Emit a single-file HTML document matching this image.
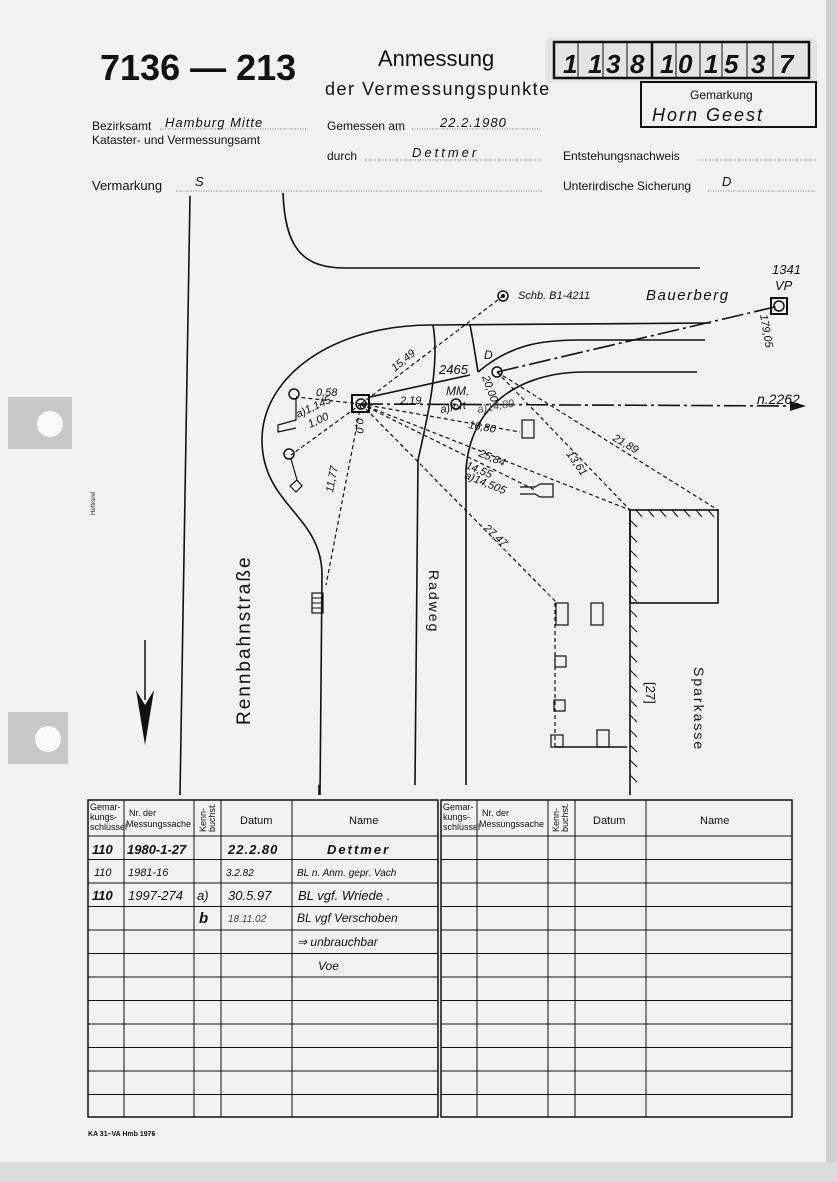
<!DOCTYPE html>
<html><head><meta charset="utf-8"><style>
html,body{margin:0;padding:0;background:#e6e6e6;}
svg{display:block;font-family:"Liberation Sans",sans-serif;}
</style></head><body>
<svg width="837" height="1182" viewBox="0 0 837 1182" xmlns="http://www.w3.org/2000/svg">
<rect x="0" y="0" width="837" height="1182" fill="#f2f2f2"/>
<rect x="826" y="0" width="11" height="1182" fill="#cfcfcf"/>
<rect x="0" y="1162" width="837" height="20" fill="#dcdcdc"/>
<!-- punch tabs -->
<rect x="8" y="397" width="64" height="52" fill="#c8c8c8"/>
<circle cx="50" cy="424" r="13" fill="#fafafa"/>
<rect x="8" y="712" width="60" height="52" fill="#c8c8c8"/>
<circle cx="48" cy="739" r="13" fill="#fafafa"/>
<text x="95" y="515" font-size="6" transform="rotate(-90 95 515)" fill="#333">Heftrand</text>

<!-- header -->
<text x="100" y="80" font-size="36" font-weight="bold" fill="#111" font-family="Liberation Sans Narrow, Liberation Sans, sans-serif">7136 — 213</text>
<text x="378" y="66" font-size="22" fill="#111">Anmessung</text>
<text x="325" y="95" font-size="18" letter-spacing="1.5" fill="#111">der Vermessungspunkte</text>
<rect x="545" y="38" width="272" height="44" rx="5" fill="#e4e4e4"/>
<rect x="554" y="42" width="255" height="36" fill="none" stroke="#111" stroke-width="2.5"/>
<g font-size="26" font-style="italic" fill="#111" font-weight="bold">
<text x="563" y="73">1</text><text x="588" y="73">1</text><text x="606" y="73">3</text><text x="630" y="73">8</text><text x="660" y="73">1</text><text x="678" y="73">0</text><text x="704" y="73">1</text><text x="724" y="73">5</text><text x="751" y="73">3</text><text x="779" y="73">7</text>
</g>
<g stroke="#111" stroke-width="1"><line x1="578" y1="42" x2="578" y2="78"/><line x1="603" y1="42" x2="603" y2="78"/><line x1="627" y1="42" x2="627" y2="78"/><line x1="652" y1="42" x2="652" y2="78" stroke-width="2.5"/><line x1="676" y1="42" x2="676" y2="78"/><line x1="700" y1="42" x2="700" y2="78"/><line x1="722" y1="42" x2="722" y2="78"/><line x1="747" y1="42" x2="747" y2="78"/><line x1="773" y1="42" x2="773" y2="78"/></g>
<rect x="641" y="82" width="175" height="45" fill="none" stroke="#111" stroke-width="2"/>
<text x="690" y="99" font-size="12" fill="#111">Gemarkung</text>
<text x="652" y="121" font-size="18" font-style="italic" letter-spacing="2" fill="#111">Horn  Geest</text>

<g font-size="12" fill="#111">
<text x="92" y="130">Bezirksamt</text>
<text x="92" y="144">Kataster- und Vermessungsamt</text>
<text x="327" y="130">Gemessen am</text>
<text x="327" y="160">durch</text>
<text x="563" y="160">Entstehungsnachweis</text>
<text x="92" y="190" font-size="13">Vermarkung</text>
<text x="563" y="190">Unterirdische Sicherung</text>
</g>
<g font-size="13" font-style="italic" fill="#111" letter-spacing="1">
<text x="165" y="127">Hamburg Mitte</text>
<text x="440" y="127">22.2.1980</text>
<text x="412" y="157" letter-spacing="3">Dettmer</text>
<text x="195" y="186">S</text>
<text x="722" y="186">D</text>
</g>
<g stroke="#555" stroke-width="0.8" stroke-dasharray="1 1.5">
<line x1="160" y1="129" x2="308" y2="129"/><line x1="412" y1="129" x2="542" y2="129"/>
<line x1="365" y1="160" x2="542" y2="160"/><line x1="700" y1="160" x2="816" y2="160"/>
<line x1="176" y1="191" x2="542" y2="191"/><line x1="708" y1="191" x2="816" y2="191"/>
</g>

<!-- drawing -->
<g fill="none" stroke="#111" stroke-width="1.6">
<path d="M190,196 L180,795"/>
<path d="M283,193 C285,245 300,268 345,268 L700,268"/>
<path d="M710,323 L432,325 C330,325 262,378 262,440 C262,505 322,515 322,575 L320,795"/>
<path d="M433,325 C440,365 427,420 418,460 L415,785"/>
<path d="M470,325 C474,345 476,360 478,372"/>
<path d="M478,372 C510,345 540,340 580,340 L705,340"/>
<path d="M466,785 L466,470 C470,405 520,372 585,372 L697,372"/>
<rect x="630" y="510" width="88" height="93"/>
<path d="M630,510 L630,795"/>
<path d="M555,747 L627,747"/>
<path d="M319,785 L319,795"/>
</g>
<g stroke="#111" stroke-width="1" fill="none">
<path d="M636,510 l6,7 M648,510 l6,7 M660,510 l6,7 M672,510 l6,7 M684,510 l6,7 M696,510 l6,7 M708,510 l6,7"/>
<path d="M630,520 l7,7 M630,535 l7,7 M630,550 l7,7 M630,565 l7,7 M630,580 l7,7 M630,595 l7,7 M630,610 l7,7 M630,625 l7,7 M630,640 l7,7 M630,655 l7,7 M630,670 l7,7 M630,685 l7,7 M630,700 l7,7 M630,715 l7,7 M630,730 l7,7 M630,745 l7,7 M630,760 l7,7 M630,775 l7,7"/>
</g>
<g stroke="#111" stroke-width="1.2" stroke-dasharray="4 3" fill="none">
<line x1="361" y1="404" x2="503" y2="296"/>
<line x1="361" y1="404" x2="296" y2="397"/>
<line x1="361" y1="404" x2="291" y2="455"/>
<line x1="361" y1="404" x2="326" y2="585"/>
<line x1="361" y1="404" x2="520" y2="432"/>
<line x1="361" y1="404" x2="535" y2="490"/>
<line x1="361" y1="404" x2="630" y2="510"/>
<line x1="361" y1="404" x2="557" y2="603"/>
<line x1="497" y1="372" x2="630" y2="510"/>
<line x1="497" y1="372" x2="718" y2="510"/>
<line x1="555" y1="603" x2="555" y2="747"/>
</g>
<g stroke="#111" stroke-width="1.6" stroke-dasharray="22 4 3 4" fill="none">
<line x1="361" y1="404" x2="800" y2="406"/>
<line x1="497" y1="372" x2="779" y2="306"/>
</g>
<line x1="370" y1="397" x2="470" y2="375" stroke="#111" stroke-width="1.6"/>
<path d="M790,401 L806,406 L790,411 Z" fill="#111"/>
<!-- symbols -->
<rect x="352" y="395" width="17" height="17" fill="none" stroke="#111" stroke-width="2"/>
<circle cx="361" cy="404" r="5" fill="none" stroke="#111" stroke-width="1.5"/>
<rect x="771" y="298" width="16" height="16" fill="none" stroke="#111" stroke-width="2"/>
<circle cx="779" cy="306" r="5" fill="none" stroke="#111" stroke-width="1.5"/>
<circle cx="503" cy="296" r="5" fill="none" stroke="#111" stroke-width="1.5"/><circle cx="503" cy="296" r="2" fill="#111"/>
<circle cx="497" cy="372" r="5" fill="none" stroke="#111" stroke-width="1.5"/>
<circle cx="456" cy="404" r="5" fill="none" stroke="#111" stroke-width="1.5"/>
<circle cx="294" cy="394" r="5" fill="none" stroke="#111" stroke-width="1.5"/>
<path d="M296,399 L296,420 L278,425 L278,432 L296,428" fill="none" stroke="#111" stroke-width="1.2"/>
<circle cx="289" cy="454" r="5" fill="none" stroke="#111" stroke-width="1.5"/>
<path d="M291,459 L297,480 L302,486 L296,492 L290,486 L297,480" fill="none" stroke="#111" stroke-width="1.2"/>
<rect x="522" y="420" width="12" height="18" fill="none" stroke="#111" stroke-width="1.2"/>
<path d="M520,487 L535,487 L540,484 L553,484 L553,497 L540,497 L535,494 L520,494" fill="none" stroke="#111" stroke-width="1.2"/>
<rect x="312" y="593" width="11" height="20" fill="none" stroke="#111" stroke-width="1.2"/>
<path d="M312,598 h11 M312,603 h11 M312,608 h11" stroke="#111"/>
<g fill="none" stroke="#111" stroke-width="1.2">
<rect x="556" y="603" width="12" height="22"/><rect x="591" y="603" width="12" height="22"/>
<rect x="555" y="656" width="11" height="11"/><rect x="554" y="700" width="11" height="11"/>
<rect x="551" y="735" width="12" height="12"/><rect x="597" y="730" width="12" height="17"/>
</g>
<path d="M145,640 L145,700" stroke="#111" stroke-width="1.5"/>
<path d="M136,690 L145,745 L154,690 L145,705 Z" fill="#111"/>
<!-- labels -->
<g fill="#111" font-size="11" font-style="italic">
<text x="518" y="299" font-size="11">Schb. B1-4211</text>
<text x="646" y="300" font-size="15" letter-spacing="1.5">Bauerberg</text>
<text x="772" y="274" font-size="13">1341</text><text x="775" y="290" font-size="13">VP</text>
<text x="760" y="315" font-size="11" transform="rotate(80 760 315)">179,05</text>
<text x="757" y="404" font-size="14">n.2262</text>
<text x="484" y="359" font-size="12">D</text>
<text x="439" y="374" font-size="13">2465</text>
<text x="446" y="395" font-size="12">MM.</text>
<text x="395" y="372" transform="rotate(-40 395 372)">15,49</text>
<text x="316" y="396">0,58</text>
<text x="298" y="418" transform="rotate(-25 298 418)">a)1,145</text>
<text x="310" y="428" transform="rotate(-25 310 428)">1,00</text>
<text x="400" y="404">2,19</text>
<text x="441" y="413" transform="rotate(-10 441 413)">a)fort</text>
<text x="478" y="413" fill="#555" transform="rotate(-10 478 413)">a)14,89</text>
<text x="468" y="428" transform="rotate(10 468 428)">16,80</text>
<text x="482" y="377" transform="rotate(70 482 377)">20,00</text>
<text x="356" y="418" transform="rotate(90 356 418)">0,0</text>
<text x="333" y="493" transform="rotate(-80 333 493)">11,77</text>
<text x="478" y="456" transform="rotate(22 478 456)">25,84</text>
<text x="465" y="468" transform="rotate(22 465 468)">14,55</text>
<text x="464" y="478" transform="rotate(22 464 478)">a)14,505</text>
<text x="483" y="529" transform="rotate(42 483 529)">27,47</text>
<text x="566" y="454" transform="rotate(55 566 454)">13,61</text>
<text x="612" y="440" transform="rotate(30 612 440)">21,89</text>
</g>
<text x="250" y="725" font-size="19" letter-spacing="2" fill="#111" transform="rotate(-90 250 725)">Rennbahnstraße</text>
<text x="429" y="570" font-size="14" letter-spacing="2" fill="#111" transform="rotate(90 429 570)">Radweg</text>
<text x="694" y="667" font-size="14" letter-spacing="2" fill="#111" transform="rotate(90 694 667)">Sparkasse</text>
<text x="646" y="682" font-size="13" fill="#111" transform="rotate(90 646 682)">[27]</text>

<!-- table -->
<g fill="none" stroke="#111" stroke-width="1">
<rect x="88" y="800" width="350" height="317" stroke-width="1.5"/>
<rect x="441" y="800" width="351" height="317" stroke-width="1.5"/>
<path d="M124,800V1117M194,800V1117M221,800V1117M292,800V1117M477,800V1117M548,800V1117M575,800V1117M646,800V1117"/>
<path d="M88,836H438M88,859.5H438M88,883H438M88,906.5H438M88,930H438M88,953.5H438M88,977H438M88,1000.5H438M88,1024H438M88,1047.5H438M88,1071H438M88,1094.5H438"/>
<path d="M441,836H792M441,859.5H792M441,883H792M441,906.5H792M441,930H792M441,953.5H792M441,977H792M441,1000.5H792M441,1024H792M441,1047.5H792M441,1071H792M441,1094.5H792"/>
</g>
<g fill="#111" font-size="9">
<text x="90" y="810">Gemar-</text><text x="90" y="820">kungs-</text><text x="90" y="830">schlüssel</text>
<text x="129" y="816">Nr. der</text><text x="126" y="827">Messungssache</text>
<text x="206" y="832" transform="rotate(-90 206 832)">Kenn-</text><text x="215" y="832" transform="rotate(-90 215 832)">buchst.</text>
<text x="443" y="810">Gemar-</text><text x="443" y="820">kungs-</text><text x="443" y="830">schlüssel</text>
<text x="482" y="816">Nr. der</text><text x="479" y="827">Messungssache</text>
<text x="559" y="832" transform="rotate(-90 559 832)">Kenn-</text><text x="568" y="832" transform="rotate(-90 568 832)">buchst.</text>
<text x="240" y="824" font-size="11">Datum</text><text x="349" y="824" font-size="11">Name</text>
<text x="593" y="824" font-size="11">Datum</text><text x="700" y="824" font-size="11">Name</text>
</g>
<g fill="#111" font-style="italic" font-size="13">
<text x="92" y="854" font-weight="bold">110</text><text x="127" y="854" font-weight="bold">1980-1-27</text>
<text x="228" y="854" font-weight="bold" letter-spacing="1">22.2.80</text><text x="327" y="854" letter-spacing="2" font-weight="bold">Dettmer</text>
<text x="94" y="876" font-size="11">110</text><text x="128" y="876" font-size="11">1981-16</text>
<text x="226" y="876" font-size="10">3.2.82</text><text x="297" y="876" font-size="10">BL n. Anm. gepr. Vach</text>
<text x="92" y="900" font-weight="bold">110</text><text x="128" y="900">1997-274</text><text x="197" y="900">a)</text>
<text x="228" y="900">30.5.97</text><text x="298" y="900">BL vgf. Wriede .</text>
<text x="199" y="923" font-size="15" font-weight="bold">b</text>
<text x="228" y="922" font-size="10" fill="#444">18.11.02</text><text x="297" y="922" font-size="12">BL vgf Verschoben</text>
<text x="297" y="946" font-size="12">⇒ unbrauchbar</text>
<text x="318" y="970" font-size="12">Voe</text>
</g>
<text x="88" y="1136" font-size="7" font-weight="bold" fill="#111">KA 31–VA Hmb 1976</text>
</svg>
</body></html>
